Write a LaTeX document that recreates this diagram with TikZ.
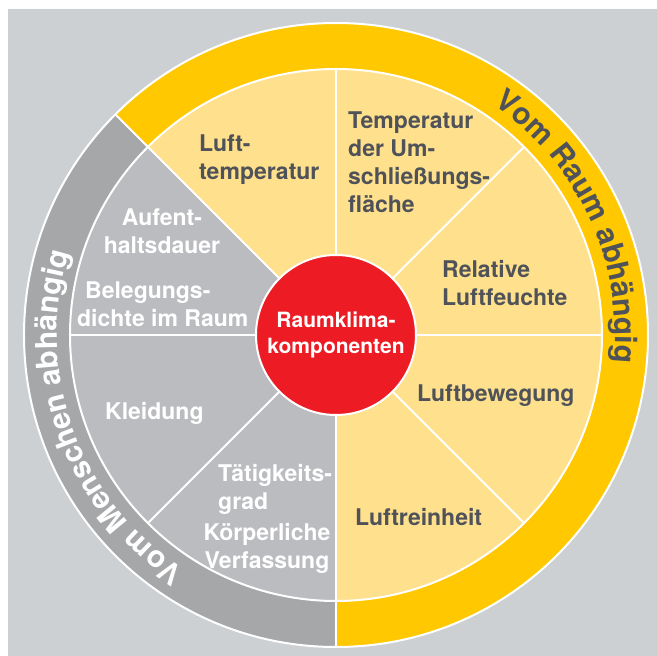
\documentclass[tikz,border=0pt]{standalone}
\usepackage{fontspec}
\setmainfont{TeX Gyre Heros}
\usetikzlibrary{decorations.text}
\definecolor{bggrau}{HTML}{CDD0D3}
\definecolor{ringgelb}{HTML}{FFC800}
\definecolor{hellgelb}{HTML}{FFE08C}
\definecolor{ringgrau}{HTML}{A6A7A9}
\definecolor{feldgrau}{HTML}{BBBCC0}
\definecolor{kernrot}{HTML}{ED1C24}
\definecolor{schrift}{HTML}{4F5359}
\tikzset{
  feld/.style={font=\bfseries\fontsize{23}{28}\selectfont, inner sep=0pt},
  dunkel/.style={feld, text=schrift},
  hell/.style={feld, text=white},
  trenn/.style={white, line width=2pt},
}
\begin{document}
\begin{tikzpicture}[x=1pt,y=1pt]
\pgfmathsetmacro{\rA}{312}
\pgfmathsetmacro{\rB}{266}
\pgfmathsetmacro{\rT}{279}
\useasboundingbox (-336,-321) rectangle (321,335);
\fill[bggrau] (-328,-321) rectangle (321,326);
% Ringe und Felder
\fill[ringgelb] (0,0) -- (135:\rA) arc (135:-90:\rA) -- cycle;
\fill[ringgrau] (0,0) -- (135:\rA) arc (135:270:\rA) -- cycle;
\fill[hellgelb] (0,0) -- (135:\rB) arc (135:-90:\rB) -- cycle;
\fill[feldgrau] (0,0) -- (135:\rB) arc (135:270:\rB) -- cycle;
\draw[trenn] (0,0) circle (\rA);
\draw[trenn] (0,0) circle (\rB);
\foreach \w in {0,45,...,315}
  \draw[trenn] (0,0) -- (\w:\rB);
\draw[trenn] (135:\rB) -- (135:\rA);
\draw[trenn] (270:\rB) -- (270:\rA);
% Beschriftung der Ringe
\path[decorate, decoration={text along path, text align=center, text color=schrift,
  text={|\bfseries\fontsize{30}{30}\selectfont|Vom Raum abhängig}}]
  (70:\rT) arc (70:-20:\rT);
\path[decorate, decoration={text along path, text align=center, text color=white,
  text={|\bfseries\fontsize{30}{30}\selectfont|Vom Menschen abhängig}}]
  (245:\rT) arc (245:155:\rT);
% Mitte
\node[circle, fill=kernrot, draw=white, line width=2pt, minimum size=160pt, inner sep=0pt,
  align=center, text=white, font=\bfseries\fontsize{21}{26}\selectfont] (kern) at (0,0)
  {Raumklima-\\komponenten};
% Felder vom Raum
\node[dunkel, align=left, anchor=north west] (lufttemp) at (-137,200) {Luft-\\temperatur};
\node[dunkel, align=left, anchor=north west] (flaeche) at (12,223) {Temperatur\\der Um-\\schließungs-\\fläche};
\node[dunkel, align=left, anchor=north west] (feuchte) at (106,75) {Relative\\Luftfeuchte};
\node[dunkel, anchor=north west] (bewegung) at (81,-50) {Luftbewegung};
\node[dunkel, anchor=north west] (reinheit) at (19,-173) {Luftreinheit};
% Felder vom Menschen
\node[hell, align=center, anchor=north] (dauer) at (-174,126) {Aufent-\\haltsdauer};
\node[hell, align=left, anchor=north west] (dichte) at (-259,53) {\hspace{8pt}Belegungs-\\dichte im Raum};
\node[hell, anchor=north west] (kleidung) at (-231,-67) {Kleidung};
\node[hell, align=left, anchor=north west] (taetig) at (-118,-129) {Tätigkeits-\\grad};
\node[hell, align=center, anchor=north] (verfassung) at (-69,-188) {Körperliche\\Verfassung};
\end{tikzpicture}
\end{document}
